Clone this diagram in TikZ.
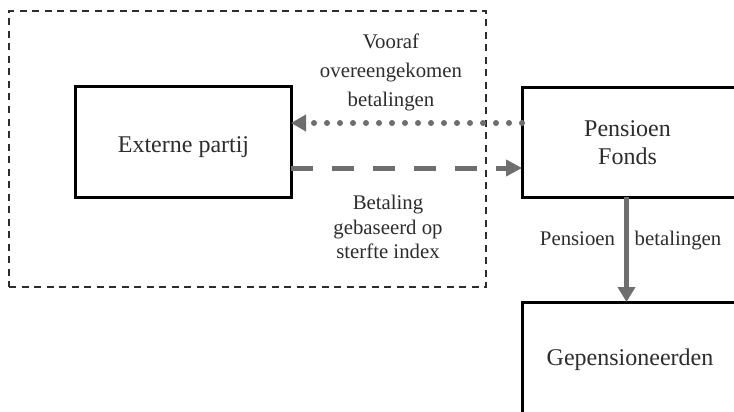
\documentclass[tikz,border=0pt]{standalone}
\usepackage{fontspec}
\setmainfont{Liberation Serif}
\usetikzlibrary{arrows.meta}
\definecolor{arrgray}{RGB}{110,110,110}
\definecolor{txtgray}{RGB}{45,45,45}
\tikzset{
  boxnode/.style={draw=black, line width=3pt, fill=white, rectangle, inner sep=0pt, outer sep=0pt, anchor=north west},
  boxtext/.style={font=\fontsize{24}{28}\selectfont, text=txtgray, inner sep=0pt, align=center},
  edgetext/.style={font=\fontsize{20.8}{29}\selectfont, text=txtgray, inner sep=0pt, align=center},
  grpframe/.style={draw=txtgray, line width=1.6pt, dash pattern=on 7pt off 5.5pt, rectangle, inner sep=0pt, outer sep=0pt, anchor=north west},
  dotarrow/.style={draw=arrgray, line width=6pt, line cap=round, dash pattern=on 0pt off 13pt, -{Triangle[length=15pt,width=16pt]}},
  dasharrow/.style={draw=arrgray, line width=5pt, dash pattern=on 22pt off 19pt, -{Triangle[length=16pt,width=16pt]}},
  solidarrow/.style={draw=arrgray, line width=4.5pt, -{Triangle[length=15pt,width=17pt]}}
}
\begin{document}
\begin{tikzpicture}[x=1pt,y=-1pt]
\useasboundingbox (0,0) rectangle (734,412);
\clip (0,0) rectangle (734,412);
\fill[white] (0,0) rectangle (734,412);
% group frame
\node[grpframe, minimum width=477pt, minimum height=276pt] (grp) at (9,11) {};
% boxes
\node[boxnode, minimum width=216pt, minimum height=110pt] (extern) at (75,87) {};
\node[boxnode, minimum width=240pt, minimum height=109pt] (fonds) at (522,88) {};
\node[boxnode, minimum width=240pt, minimum height=140pt] (gepens) at (522,302) {};
% box texts
\node[boxtext, anchor=base] (externtxt) at (183.5,152) {Externe partij};
\node[boxtext] (fondstxt) at (627.5,143) {Pensioen\\Fonds};
\node[boxtext, anchor=base] (gepenstxt) at (630,365) {Gepensioneerden};
% edge labels
\node[edgetext] (voorafl) at (391,72) {Vooraf\\overeengekomen\\betalingen};
\node[edgetext, font=\fontsize{20.8}{24.5}\selectfont] (betalingl) at (388,227) {Betaling\\gebaseerd op\\sterfte index};
\node[edgetext, anchor=base] (pensl) at (577.5,245) {Pensioen};
\node[edgetext, anchor=base] (betl) at (678,245) {betalingen};
% connectors
\coordinate (dotY) at (0,123);
\coordinate (dashY) at (0,168);
\coordinate (vX) at (626.5,0);
\draw[dotarrow] (fonds.west |- dotY) -- (extern.east |- dotY);
\draw[dasharrow] (extern.east |- dashY) -- (fonds.west |- dashY);
\draw[solidarrow] (fonds.south -| vX) -- (gepens.north -| vX);
\end{tikzpicture}
\end{document}
